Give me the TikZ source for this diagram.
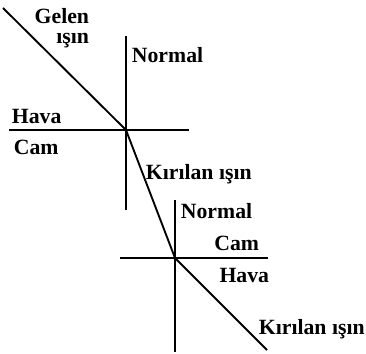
\documentclass[tikz,border=0pt]{standalone}
\usepackage{fontspec}
\setmainfont{Liberation Serif}
\usepackage{tikz}

\begin{document}
\begin{tikzpicture}[x=0.75pt, y=-0.75pt, line width=1.4pt,
    lbl/.style={inner sep=0pt, font=\bfseries\fontsize{16.3}{18}\selectfont}]
            % Fix the frame of the picture
            \useasboundingbox (0,0) rectangle (366,353);

            % Points where the ray meets the two surfaces
            \coordinate (P1) at (126,130);
            \coordinate (P2) at (175,258);

            % Free ends of the lines
            \coordinate (inStart) at (3,8);
            \coordinate (outEnd) at (267,350);
            \coordinate (surfOneL) at (9,130);
            \coordinate (surfOneR) at (189,130);
            \coordinate (normOneT) at (126,36);
            \coordinate (normOneB) at (126,210);
            \coordinate (surfTwoL) at (120,258);
            \coordinate (surfTwoR) at (268,258);
            \coordinate (normTwoT) at (175,200);
            \coordinate (normTwoB) at (175,352);

            % First surface (air to glass) and its normal
            \draw (surfOneL) -- (surfOneR);
            \draw (normOneT) -- (normOneB);

            % Second surface (glass to air) and its normal
            \draw (surfTwoL) -- (surfTwoR);
            \draw (normTwoT) -- (normTwoB);

            % The ray: incoming, inside the glass, outgoing
            \draw (inStart) -- (P1);
            \draw (P1) -- (P2);
            \draw (P2) -- (outEnd);

            % Labels near the first surface
            \node[lbl, anchor=base east] (gelen) at (90,24) {Gelen};
            \node[lbl, anchor=base east] (gelenIsin) at (90,43) {ışın};
            \node[lbl, anchor=base west] (normalOne) at (131,62) {Normal};
            \node[lbl, anchor=base west] (havaOne) at (11,123) {Hava};
            \node[lbl, anchor=base west] (camOne) at (13,154) {Cam};
            \node[lbl, anchor=base west] (kirilanOne) at (145,179) {Kırılan ışın};

            % Labels near the second surface
            \node[lbl, anchor=base west] (normalTwo) at (180,218) {Normal};
            \node[lbl, anchor=base east] (camTwo) at (260,250) {Cam};
            \node[lbl, anchor=base east] (havaTwo) at (270,282) {Hava};
            \node[lbl, anchor=base west] (kirilanTwo) at (258,334) {Kırılan ışın};

        \end{tikzpicture}
\end{document}
